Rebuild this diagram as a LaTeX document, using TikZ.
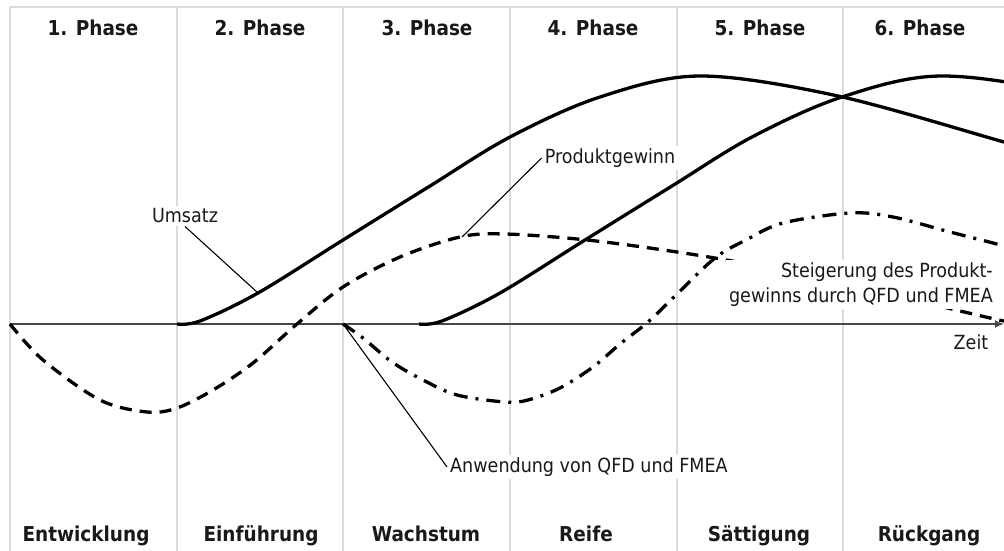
\documentclass[tikz,border=0pt]{standalone}
\usepackage{fontspec}
\setmainfont{DejaVu Sans Condensed}
\usetikzlibrary{arrows.meta}
\begin{document}
\begin{tikzpicture}[x=1pt,y=-1pt,
  gridline/.style={draw=black!14, line width=1.4pt},
  axisline/.style={draw=black!72, line width=2.2pt, -{Latex[length=9pt,width=8pt]}},
  txt/.style={font=\fontsize{19.5}{25}\selectfont, text=black!90, inner sep=3pt},
  boldtxt/.style={font=\fontsize{20.5}{25}\selectfont\bfseries, text=black!90, inner sep=0pt},
  masked/.style={txt, fill=white},
  solidcurve/.style={draw=black, line width=3.3pt},
  dashcurve/.style={draw=black, line width=3.3pt, dash pattern=on 12pt off 8pt},
  dotdashcurve/.style={draw=black, line width=3.3pt, dash pattern=on 14pt off 8pt on 3pt off 8pt},
  leader/.style={draw=black, line width=1.1pt}
]
\useasboundingbox (0,0) rectangle (1004,551);
\clip (0,0) rectangle (1004,551);

% phase grid
\draw[gridline] (10,7) -- (1004,7);
\foreach \x in {10,177,343,510,677,843}
  \draw[gridline] (\x,7) -- (\x,551);

% phase headings and stage names
\foreach \x/\n in {93/1,260/2,427/3,593/4,760/5,920/6}
  \node[boldtxt, anchor=base] (ph\n) at (\x,36) {\n. Phase};
\node[boldtxt, anchor=base] (st1) at (86,541) {Entwicklung};
\node[boldtxt, anchor=base] (st2) at (261,541) {Einführung};
\node[boldtxt, anchor=base] (st3) at (426,541) {Wachstum};
\node[boldtxt, anchor=base] (st4) at (586,541) {Reife};
\node[boldtxt, anchor=base] (st5) at (759,541) {Sättigung};
\node[boldtxt, anchor=base] (st6) at (929,541) {Rückgang};

% time axis
\coordinate (ax0) at (10,324);
\coordinate (ax1) at (1004,324);
\draw[axisline] (ax0) -- (ax1);
\node[txt] (zeit) at (971,342) {Zeit};

% profit without QFD/FMEA
\draw[dashcurve] plot[smooth, tension=0.55] coordinates {
  (10,324) (43,360) (100,400) (147,412) (177,408) (213,390) (253,363)
  (297,324) (343,287) (400,257) (460,237) (505,234) (587,240) (677,252)
  (753,265) (870,290) (990,318) (1010,322)};

% profit increase through QFD and FMEA
\draw[dotdashcurve] plot[smooth, tension=0.55] coordinates {
  (343,324) (363,338) (392,362) (423,380) (457,395) (505,402) (528,400)
  (560,388) (593,367) (620,344) (648,322) (675,296) (715,258) (746,240)
  (783,223) (850,213) (893,217) (950,232) (993,243) (1010,248)};

% revenue curves
\draw[solidcurve] plot[smooth, tension=0.55] coordinates {
  (177,324) (200,321) (258,293) (343,240) (430,186) (510,137) (600,97)
  (700,76) (838,96) (1004,142) (1060,158)};
\begin{scope}[xshift=242pt]
\draw[solidcurve] plot[smooth, tension=0.55] coordinates {
  (177,324) (200,321) (258,293) (343,240) (430,186) (510,137) (600,97)
  (700,76) (838,96) (1004,142) (1060,158)};
\end{scope}

% labels with leader lines
\coordinate (umsatzpt) at (258,293);
\coordinate (gewinnpt) at (462,237);
\coordinate (startpt) at (343,324);

\node[masked] (umsatz) at (185,216) {Umsatz};
\node[masked] (gewinn) at (610,158) {Produktgewinn};
\node[masked] (anwendung) at (589,467) {Anwendung von QFD und FMEA};
\node[masked, align=right, anchor=east] (steigerung) at (996,284.5)
  {Steigerung des Produkt-\\gewinns durch QFD und FMEA};

\draw[leader] (umsatz.south) -- (umsatzpt);
\draw[leader] (gewinn.west) -- (gewinnpt);
\draw[leader] (anwendung.west) -- (startpt);
\end{tikzpicture}
\end{document}
